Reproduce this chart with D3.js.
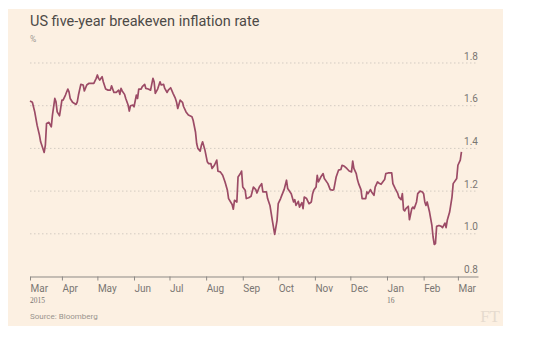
<!DOCTYPE html>
<html><head><meta charset="utf-8">
<script src="https://cdn.jsdelivr.net/npm/d3@7"></script>
<style>html,body{margin:0;padding:0;background:#fff;}svg{display:block;}</style>
</head><body>
<svg id="chart" width="554" height="342"></svg>
<script>
const title = "US five-year breakeven inflation rate";
const unit = "%";
const source = "Source: Bloomberg";
const yTicks = [0.8, 1.0, 1.2, 1.4, 1.6, 1.8];
const monthTicks = ["2015-03-05","2015-04-01","2015-05-01","2015-06-01","2015-07-01","2015-08-01","2015-09-01","2015-10-01","2015-11-01","2015-12-01","2016-01-01","2016-02-01","2016-03-01"];
const yearLabels = [["2015-03-05","2015"],["2016-01-01","16"]];
const dates = ["2015-03-05","2015-03-07","2015-03-09","2015-03-11","2015-03-13","2015-03-14","2015-03-15","2015-03-17","2015-03-18","2015-03-19","2015-03-21","2015-03-23","2015-03-24","2015-03-26","2015-03-27","2015-03-28","2015-03-30",
"2015-04-01","2015-04-02","2015-04-04","2015-04-06","2015-04-07","2015-04-08","2015-04-10","2015-04-13","2015-04-14","2015-04-15","2015-04-17","2015-04-19","2015-04-20","2015-04-22","2015-04-24","2015-04-26","2015-04-28","2015-04-30",
"2015-05-01","2015-05-02","2015-05-03","2015-05-05","2015-05-06","2015-05-08","2015-05-10","2015-05-12","2015-05-13","2015-05-15","2015-05-17","2015-05-19","2015-05-20","2015-05-21","2015-05-22","2015-05-24","2015-05-25","2015-05-27","2015-05-28","2015-05-29","2015-05-31",
"2015-06-01","2015-06-03","2015-06-04","2015-06-05","2015-06-07","2015-06-08","2015-06-10","2015-06-11","2015-06-13","2015-06-15","2015-06-17","2015-06-18","2015-06-19","2015-06-21","2015-06-23","2015-06-24","2015-06-26","2015-06-27","2015-06-29","2015-06-30",
"2015-07-02","2015-07-04","2015-07-06","2015-07-07","2015-07-08","2015-07-10","2015-07-12","2015-07-13","2015-07-15","2015-07-17","2015-07-20","2015-07-21","2015-07-23","2015-07-24","2015-07-25","2015-07-27","2015-07-28","2015-07-29","2015-07-31",
"2015-08-02","2015-08-03","2015-08-05","2015-08-06","2015-08-08","2015-08-10","2015-08-11","2015-08-13","2015-08-15","2015-08-17","2015-08-19","2015-08-20","2015-08-23","2015-08-24","2015-08-25","2015-08-27","2015-08-28","2015-08-30","2015-08-31",
"2015-09-01","2015-09-03","2015-09-04","2015-09-06","2015-09-08","2015-09-10","2015-09-12","2015-09-13","2015-09-15","2015-09-17","2015-09-18","2015-09-21","2015-09-22","2015-09-24","2015-09-26","2015-09-28","2015-09-30",
"2015-10-01","2015-10-03","2015-10-04","2015-10-06","2015-10-08","2015-10-09","2015-10-11","2015-10-12","2015-10-14","2015-10-15","2015-10-16","2015-10-18","2015-10-19","2015-10-21","2015-10-22","2015-10-23","2015-10-25","2015-10-27","2015-10-29","2015-10-30","2015-10-31",
"2015-11-02","2015-11-03","2015-11-04","2015-11-06","2015-11-08","2015-11-09","2015-11-12","2015-11-14","2015-11-16","2015-11-17","2015-11-19","2015-11-21","2015-11-23","2015-11-24","2015-11-26","2015-11-28","2015-11-30",
"2015-12-02","2015-12-03","2015-12-04","2015-12-06","2015-12-07","2015-12-08","2015-12-10","2015-12-11","2015-12-12","2015-12-14","2015-12-15","2015-12-16","2015-12-18","2015-12-19","2015-12-21","2015-12-22","2015-12-24","2015-12-25","2015-12-27","2015-12-29","2015-12-30","2015-12-31",
"2016-01-02","2016-01-05","2016-01-06","2016-01-08","2016-01-10","2016-01-11","2016-01-13","2016-01-14","2016-01-15","2016-01-16","2016-01-17","2016-01-19","2016-01-20","2016-01-22","2016-01-23","2016-01-24","2016-01-26","2016-01-27","2016-01-29","2016-01-31",
"2016-02-01","2016-02-02","2016-02-03","2016-02-04","2016-02-06","2016-02-08","2016-02-09","2016-02-10","2016-02-11","2016-02-12","2016-02-14","2016-02-16","2016-02-17","2016-02-19","2016-02-20","2016-02-21","2016-02-23","2016-02-25","2016-02-26","2016-02-29",
"2016-03-01","2016-03-03","2016-03-04"];
const values = [1.622,1.616,1.571,1.509,1.462,1.431,1.415,1.381,1.415,1.517,1.522,1.501,1.556,1.634,1.618,1.571,1.553,
1.626,1.626,1.650,1.678,1.665,1.634,1.616,1.606,1.618,1.650,1.700,1.697,1.669,1.697,1.705,1.705,1.705,1.728,
1.744,1.728,1.720,1.736,1.712,1.678,1.673,1.673,1.693,1.662,1.662,1.673,1.653,1.681,1.669,1.653,1.634,1.603,1.575,1.600,1.603,
1.595,1.650,1.634,1.678,1.678,1.689,1.700,1.681,1.678,1.673,1.728,1.712,1.658,1.678,1.712,1.697,1.700,1.681,1.662,1.673,
1.684,1.658,1.634,1.616,1.587,1.626,1.616,1.595,1.571,1.556,1.548,1.532,1.477,1.423,1.400,1.387,1.415,1.431,1.392,
1.337,1.329,1.329,1.306,1.321,1.345,1.293,1.290,1.274,1.243,1.204,1.165,1.137,1.115,1.157,1.149,1.266,1.282,1.294,
1.219,1.204,1.165,1.169,1.176,1.219,1.207,1.191,1.219,1.235,1.196,1.196,1.165,1.133,1.063,0.997,1.063,
1.141,1.165,1.180,1.207,1.251,1.212,1.196,1.188,1.149,1.160,1.133,1.152,1.125,1.146,1.118,1.172,1.165,1.141,1.149,1.185,1.204,
1.219,1.274,1.243,1.266,1.282,1.259,1.235,1.207,1.204,1.207,1.266,1.298,1.301,1.321,1.316,1.306,1.294,
1.290,1.341,1.306,1.282,1.254,1.235,1.207,1.165,1.165,1.165,1.196,1.188,1.207,1.196,1.180,1.219,1.243,1.238,1.232,1.247,1.254,1.282,
1.285,1.285,1.235,1.212,1.191,1.172,1.160,1.188,1.113,1.107,1.118,1.129,1.066,1.118,1.125,1.118,1.149,1.188,1.200,1.196,
1.188,1.149,1.133,1.149,1.102,1.039,0.985,0.950,0.954,1.035,1.039,1.035,1.029,1.050,1.029,1.063,1.102,1.172,1.235,1.259,
1.321,1.345,1.384];

const parse = d3.timeParse("%Y-%m-%d");
const data = dates.map((d, i) => ({date: parse(d), value: values[i]}));
const svg = d3.select("#chart");
const font = "Roboto, 'Liberation Sans', sans-serif";

svg.append("rect").attr("x", 8).attr("y", 9).attr("width", 495).attr("height", 317).attr("fill", "#fcf0e2");

const x = d3.scaleTime().domain([parse("2015-03-05"), parse("2016-03-18")]).range([30, 478]);
const y = d3.scaleLinear().domain([0.8, 1.8]).range([276.5, 63]);

svg.append("text").attr("x", 30).attr("y", 26).attr("font-family", font).attr("font-size", 14.5)
  .attr("fill", "#4d4a47").text(title);
svg.append("text").attr("x", 30).attr("y", 42).attr("font-family", font).attr("font-size", 8.5)
  .attr("fill", "#a09a94").text(unit);

// grid
const grid = svg.append("g");
grid.selectAll("line").data(yTicks.filter(t => t > 0.8)).join("line")
  .attr("x1", 30).attr("x2", 478).attr("y1", d => y(d)).attr("y2", d => y(d))
  .attr("stroke", "#d3cbc2").attr("stroke-width", 1).attr("stroke-dasharray", "1.5,2.5");
grid.selectAll("text").data(yTicks).join("text")
  .attr("x", 478).attr("y", d => y(d) - 3.5).attr("text-anchor", "end")
  .attr("font-family", font).attr("font-size", 10).attr("fill", "#7a7672")
  .text(d => d.toFixed(1));

// x axis
const tickDates = monthTicks.map(parse);
const xAxis = d3.axisBottom(x).tickValues(tickDates).tickSize(4).tickSizeOuter(0)
  .tickFormat(d3.timeFormat("%b"));
const gx = svg.append("g").attr("transform", `translate(0,${y(0.8)})`).call(xAxis);
gx.select(".domain").attr("stroke", "#8d8985");
gx.selectAll(".tick line").attr("stroke", "#8d8985");
gx.selectAll(".tick text").attr("text-anchor", "start").attr("dy", 0).attr("y", 15)
  .attr("font-family", font).attr("font-size", 10).attr("fill", "#7a7672");

svg.selectAll(".yr").data(yearLabels).join("text").attr("class", "yr")
  .attr("x", d => x(parse(d[0]))).attr("y", 303)
  .attr("font-family", "'Liberation Serif', serif").attr("font-size", 7.5).attr("fill", "#7a7672")
  .text(d => d[1]);

svg.append("text").attr("x", 30).attr("y", 319).attr("font-family", font).attr("font-size", 8)
  .attr("fill", "#9a948e").text(source);
svg.append("text").attr("x", 500).attr("y", 322).attr("text-anchor", "end")
  .attr("font-family", "'Liberation Serif', serif").attr("font-size", 17).attr("fill", "#e6dbcf").text("FT");

const line = d3.line().x(d => x(d.date)).y(d => y(d.value));
svg.append("path").datum(data).attr("d", line).attr("fill", "none")
  .attr("stroke", "#9c4b66").attr("stroke-width", 1.7).attr("stroke-linejoin", "round");
</script>
</body></html>
